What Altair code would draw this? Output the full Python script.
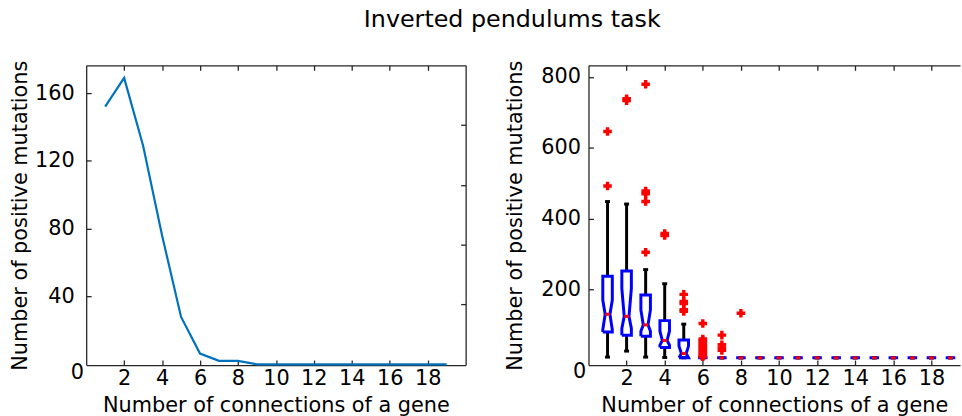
import altair as alt
import pandas as pd

# ---------------- data ----------------
# Left panel: number of positive mutations per gene connectivity
connections = list(range(1, 20))
positive_mutations = [152, 169, 129, 76, 28, 6.4, 2.1, 2.1, 0, 0,
                      0, 0, 0, 0, 0, 0, 0, 0, 0]

# Right panel: notched box statistics per gene connectivity
box_connections = list(range(1, 20))
whisker_low = [9, 26, 9, 8, 7, 7, 7, 7, 7, 7, 7, 7, 7, 7, 7, 7, 7, 7, 7]
q1 = [80, 71, 68, 36, 7, 7, 7, 7, 7, 7, 7, 7, 7, 7, 7, 7, 7, 7, 7]
notch_low = [86, 90, 82, 43, 7, 7, 7, 7, 7, 7, 7, 7, 7, 7, 7, 7, 7, 7, 7]
median = [130, 124, 100, 56, 19, 7, 7, 7, 7, 7, 7, 7, 7, 7, 7, 7, 7, 7, 7]
notch_high = [170, 203, 142, 82, 40, 7, 7, 7, 7, 7, 7, 7, 7, 7, 7, 7, 7, 7, 7]
q3 = [237, 252, 184, 112, 57, 7, 7, 7, 7, 7, 7, 7, 7, 7, 7, 7, 7, 7, 7]
whisker_high = [448, 441, 256, 216, 102, 7, 7, 7, 7, 7, 7, 7, 7, 7, 7, 7, 7, 7, 7]

outlier_connections = [1, 1,
                       2, 2,
                       3, 3, 3, 3, 3,
                       4, 4,
                       5, 5, 5, 5, 5,
                       6, 6, 6, 6, 6, 6, 6, 6, 6, 6, 6, 6,
                       7, 7, 7, 7,
                       8]
outlier_values = [492, 646,
                  733, 738,
                  305, 448, 470, 478, 779,
                  352, 358,
                  138, 143, 160, 166, 186,
                  10, 15, 20, 25, 30, 35, 40, 45, 50, 55, 60, 104,
                  28, 35, 44, 71,
                  133]

x_tick_values = [2, 4, 6, 8, 10, 12, 14, 16, 18]
left_y_ticks = [40, 80, 120, 160]
left_right_ticks = [35.3, 70.6, 105.9, 141.2]
right_y_ticks = [200, 400, 600, 800]

# ---------------- styling ----------------
FONT = "DejaVu Sans"
FS = 21
INK = "#262626"
W1, W2, H = 383, 375, 302.5
BOX_HALF = 0.25      # half width of a box, in connection units
NOTCH_HALF = 0.125   # half width at the notch waist
CAP_HALF = 0.13      # half width of whisker caps


def inward(orient, offset, values, domain=False):
    """Axis drawn on the opposite edge so that its ticks point into the plot."""
    return alt.Axis(orient=orient, offset=offset, values=values, labels=False,
                    domain=domain, domainColor=INK, domainWidth=1.3,
                    ticks=True, tickSize=5, tickColor=INK, tickWidth=1.3,
                    grid=False, title=None)


def labelled(values, title, label_pad, title_pad):
    return alt.Axis(values=values, title=title, ticks=False, grid=False,
                    domain=True, domainColor=INK, domainWidth=1.3,
                    labelPadding=label_pad, titlePadding=title_pad,
                    labelFont=FONT, labelFontSize=FS, labelColor="black",
                    titleFont=FONT, titleFontSize=FS, titleFontWeight="normal",
                    titleColor="black", labelFlush=False, labelOverlap=False)


# ---------------- left panel ----------------
left_df = pd.DataFrame({"connections": connections, "mutations": positive_mutations})
xs_l = alt.Scale(domain=[0, 20], nice=False, zero=False)
ys_l = alt.Scale(domain=[-0.4, 176.4], nice=False, zero=False)

base_l = alt.Chart(left_df)
line_l = base_l.mark_line(color="#0072BD", strokeWidth=2.2).encode(
    x=alt.X("connections:Q", scale=xs_l,
            axis=labelled(x_tick_values, "Number of connections of a gene", 3, 6)),
    y=alt.Y("mutations:Q", scale=ys_l,
            axis=labelled(left_y_ticks, "Number of positive mutations", 12, 4)),
)
ticks_l1 = base_l.mark_line(opacity=0).encode(
    x=alt.X("connections:Q", scale=xs_l, axis=inward("top", -H, x_tick_values)),
    y=alt.Y("mutations:Q", scale=ys_l, axis=inward("right", -W1, left_y_ticks)),
)
ticks_l2 = base_l.mark_line(opacity=0).encode(
    x=alt.X("connections:Q", scale=xs_l, axis=inward("bottom", -H, x_tick_values, True)),
    y=alt.Y("mutations:Q", scale=ys_l, axis=inward("left", -W1, left_right_ticks, True)),
)
origin_l = alt.Chart(pd.DataFrame({"x": [0], "y": [-0.4], "t": ["0"]})).mark_text(
    font=FONT, fontSize=FS, color="black", dx=-9, dy=8, align="center", baseline="middle"
).encode(
    x=alt.X("x:Q", scale=xs_l, axis=None),
    y=alt.Y("y:Q", scale=ys_l, axis=None),
    text="t:N",
)
left = alt.layer(line_l, ticks_l1, ticks_l2, origin_l).resolve_axis(
    x="independent", y="independent"
).properties(width=W1, height=H)

# ---------------- right panel ----------------
stats = pd.DataFrame({
    "c": box_connections, "wlo": whisker_low, "q1": q1, "nlo": notch_low,
    "med": median, "nhi": notch_high, "q3": q3, "whi": whisker_high,
})
stats["cap_l"] = stats["c"] - CAP_HALF
stats["cap_r"] = stats["c"] + CAP_HALF
stats["med_l"] = stats["c"] - NOTCH_HALF
stats["med_r"] = stats["c"] + NOTCH_HALF

# notched box outline, one closed path per connection count
rows = []
for _, s in stats.iterrows():
    c = s["c"]
    path = [(c - BOX_HALF, s["q1"]), (c - BOX_HALF, s["nlo"]), (c - NOTCH_HALF, s["med"]),
            (c - BOX_HALF, s["nhi"]), (c - BOX_HALF, s["q3"]), (c + BOX_HALF, s["q3"]),
            (c + BOX_HALF, s["nhi"]), (c + NOTCH_HALF, s["med"]), (c + BOX_HALF, s["nlo"]),
            (c + BOX_HALF, s["q1"]), (c - BOX_HALF, s["q1"])]
    for k, (px, py) in enumerate(path):
        rows.append({"c": c, "k": k, "px": px, "py": py})
outline = pd.DataFrame(rows)
outliers = pd.DataFrame({"c": outlier_connections, "v": outlier_values})

xs_r = alt.Scale(domain=[0, 19.5], nice=False, zero=False)
ys_r = alt.Scale(domain=[-13.4, 832.5], nice=False, zero=False)

base_r = alt.Chart(stats)
whisk_up = base_r.mark_rule(color="black", strokeWidth=3).encode(
    x=alt.X("c:Q", scale=xs_r,
            axis=labelled(x_tick_values, "Number of connections of a gene", 3, 6)),
    y=alt.Y("q3:Q", scale=ys_r,
            axis=labelled(right_y_ticks, "Number of positive mutations", 8, 16)),
    y2="whi:Q",
)
whisk_down = base_r.mark_rule(color="black", strokeWidth=3).encode(
    x=alt.X("c:Q", scale=xs_r, axis=None),
    y=alt.Y("wlo:Q", scale=ys_r, axis=None),
    y2="q1:Q",
)
cap_top = base_r.mark_rule(color="black", strokeWidth=3).encode(
    x=alt.X("cap_l:Q", scale=xs_r, axis=None), x2="cap_r:Q",
    y=alt.Y("whi:Q", scale=ys_r, axis=None),
)
cap_bottom = base_r.mark_rule(color="black", strokeWidth=3).encode(
    x=alt.X("cap_l:Q", scale=xs_r, axis=None), x2="cap_r:Q",
    y=alt.Y("wlo:Q", scale=ys_r, axis=None),
)
boxes = alt.Chart(outline).mark_line(color="#0000FF", strokeWidth=3, strokeJoin="miter").encode(
    x=alt.X("px:Q", scale=xs_r, axis=inward("top", -H, x_tick_values)),
    y=alt.Y("py:Q", scale=ys_r, axis=inward("right", -W2, right_y_ticks)),
    detail="c:N",
    order="k:Q",
)
medians = base_r.mark_rule(color="#FF0000", strokeWidth=3).encode(
    x=alt.X("med_l:Q", scale=xs_r, axis=inward("bottom", -H, x_tick_values, True)),
    x2="med_r:Q",
    y=alt.Y("med:Q", scale=ys_r, axis=None),
)
points = alt.Chart(outliers).mark_point(
    shape="cross", filled=True, color="#FF0000", size=75, opacity=1
).encode(
    x=alt.X("c:Q", scale=xs_r, axis=None),
    y=alt.Y("v:Q", scale=ys_r, axis=None),
)
origin_r = alt.Chart(pd.DataFrame({"x": [0], "y": [-13.4], "t": ["0"]})).mark_text(
    font=FONT, fontSize=FS, color="black", dx=-9, dy=7, align="center", baseline="middle"
).encode(
    x=alt.X("x:Q", scale=xs_r, axis=None),
    y=alt.Y("y:Q", scale=ys_r, axis=None),
    text="t:N",
)
right = alt.layer(whisk_up, whisk_down, cap_top, cap_bottom, boxes, medians, points,
                  origin_r).resolve_axis(
    x="independent", y="independent"
).properties(width=W2, height=H)

chart = alt.hconcat(left, right, spacing=36).properties(
    title=alt.TitleParams("Inverted pendulums task", font=FONT, fontSize=24,
                          fontWeight="normal", color="black", anchor="middle",
                          offset=28, dx=27),
    padding={"left": 9, "top": 6, "right": 0, "bottom": 0},
).configure_view(stroke="transparent")

chart.save("out.html", embed_options={"renderer": "svg", "actions": False})
